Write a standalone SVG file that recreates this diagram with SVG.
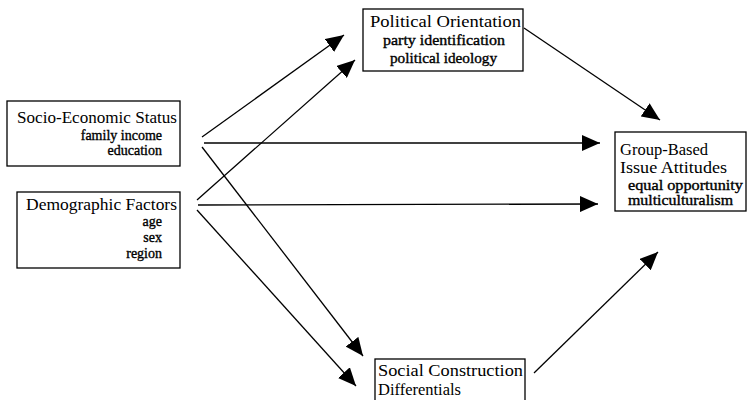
<svg xmlns="http://www.w3.org/2000/svg" width="752" height="400" viewBox="0 0 752 400">
<style>
.box{fill:#fff;stroke:#000;stroke-width:1.3}
.t{font-family:"Liberation Serif","Times New Roman",serif;font-size:16.5px;fill:#000}
.s{font-family:"Liberation Serif","Times New Roman",serif;font-size:14px;fill:#000;stroke:#000;stroke-width:0.35}
.c{stroke:#000;stroke-width:1.3;fill:none;marker-end:url(#ah)}
</style>
<defs>
<marker id="ah" viewBox="0 0 18 16" refX="18" refY="8" markerWidth="18" markerHeight="16" markerUnits="userSpaceOnUse" orient="auto">
<path d="M0,0 L18,8 L0,16 z" fill="#000"/>
</marker>
</defs>
<rect width="752" height="400" fill="#fff"/>
<g id="connectors">
<line class="c" x1="202" y1="137" x2="344" y2="35"/>
<line class="c" x1="197" y1="200" x2="355" y2="60"/>
<line class="c" x1="204" y1="143" x2="600" y2="143"/>
<line class="c" x1="198" y1="205" x2="598" y2="204"/>
<line class="c" x1="202" y1="147" x2="363" y2="356"/>
<line class="c" x1="197" y1="210" x2="356" y2="386"/>
<line class="c" x1="524" y1="28" x2="660" y2="120"/>
<line class="c" x1="534" y1="373" x2="658" y2="252"/>
</g>
<g id="ses">
<rect class="box" x="7" y="101" width="173" height="65"/>
<text class="t" x="17" y="123" textLength="160" lengthAdjust="spacingAndGlyphs">Socio-Economic Status</text>
<text class="s" x="162" y="140" text-anchor="end">family income</text>
<text class="s" x="162" y="155" text-anchor="end">education</text>
</g>
<g id="demographic">
<rect class="box" x="17" y="192" width="163" height="76"/>
<text class="t" x="26" y="210" textLength="151" lengthAdjust="spacingAndGlyphs">Demographic Factors</text>
<text class="s" x="162" y="226" text-anchor="end">age</text>
<text class="s" x="162" y="242" text-anchor="end">sex</text>
<text class="s" x="162" y="258" text-anchor="end">region</text>
</g>
<g id="political">
<rect class="box" x="363" y="9" width="160" height="62"/>
<text class="t" x="370" y="27" textLength="151" lengthAdjust="spacingAndGlyphs">Political Orientation</text>
<text class="s" x="383" y="45" textLength="122" lengthAdjust="spacingAndGlyphs">party identification</text>
<text class="s" x="390" y="63" textLength="107" lengthAdjust="spacingAndGlyphs">political ideology</text>
</g>
<g id="group">
<rect class="box" x="615" y="132" width="131" height="79"/>
<text class="t" x="620" y="155" textLength="88" lengthAdjust="spacingAndGlyphs">Group-Based</text>
<text class="t" x="620" y="173" textLength="107" lengthAdjust="spacingAndGlyphs">Issue Attitudes</text>
<text class="s" x="628" y="190" textLength="115" lengthAdjust="spacingAndGlyphs">equal opportunity</text>
<text class="s" x="628" y="205" textLength="105" lengthAdjust="spacingAndGlyphs">multiculturalism</text>
</g>
<g id="social">
<rect class="box" x="375" y="359" width="150" height="50"/>
<text class="t" x="378" y="376" textLength="145" lengthAdjust="spacingAndGlyphs">Social Construction</text>
<text class="t" x="378" y="395" textLength="83" lengthAdjust="spacingAndGlyphs">Differentials</text>
</g>
</svg>
